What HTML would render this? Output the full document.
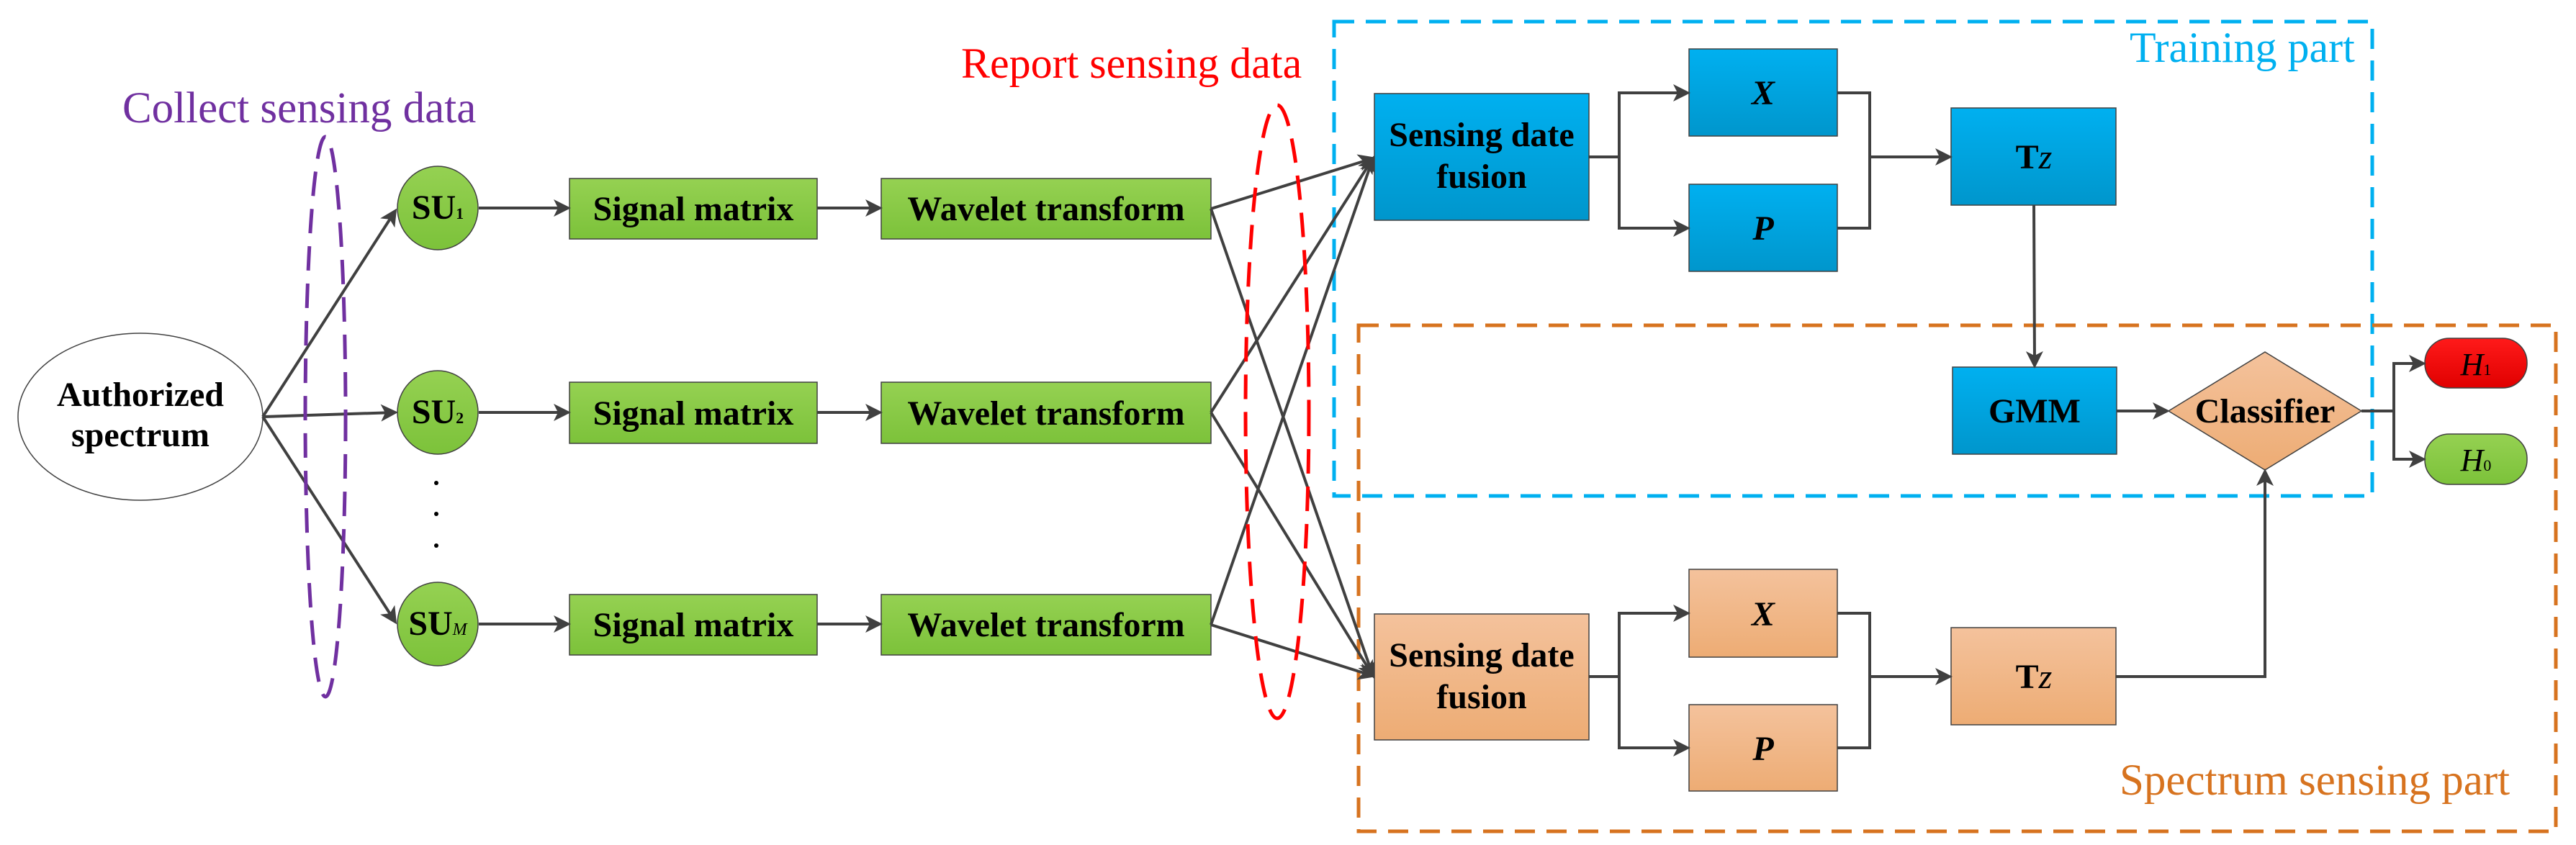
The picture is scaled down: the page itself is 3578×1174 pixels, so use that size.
<!DOCTYPE html>
<html><head><meta charset="utf-8"><style>
html,body{margin:0;padding:0;background:#fff;}
svg{display:block;}
text{font-family:"Liberation Serif",serif;}
.b{font-weight:bold;font-size:48px;fill:#000;text-anchor:middle;}
.l{stroke:#404040;stroke-width:4;fill:none;}
</style></head><body>
<svg width="3578" height="1174" viewBox="0 0 3578 1174" xmlns="http://www.w3.org/2000/svg">
<defs>
<linearGradient id="g" x1="0" y1="0" x2="0" y2="1"><stop offset="0" stop-color="#95d152"/><stop offset="1" stop-color="#7cc23a"/></linearGradient>
<linearGradient id="bl" x1="0" y1="0" x2="0" y2="1"><stop offset="0" stop-color="#00b0f0"/><stop offset="1" stop-color="#0096cc"/></linearGradient>
<linearGradient id="or" x1="0" y1="0" x2="0" y2="1"><stop offset="0" stop-color="#f4c29c"/><stop offset="1" stop-color="#edac74"/></linearGradient>
<linearGradient id="rd" x1="0" y1="0" x2="0" y2="1"><stop offset="0" stop-color="#ff1a1a"/><stop offset="1" stop-color="#e00000"/></linearGradient>
<marker id="a" markerWidth="6" markerHeight="6" refX="5" refY="3" orient="auto" markerUnits="strokeWidth"><path d="M0,0 L6,3 L0,6 L1.5,3 z" fill="#404040"/></marker>
</defs>

<!-- titles -->
<text x="170" y="170" font-size="61" fill="#7030a0">Collect sensing data</text>
<text x="1335" y="108" font-size="60" fill="#ff0000">Report sensing data</text>
<text x="2958" y="86" font-size="60" fill="#00b0f0">Training part</text>
<text x="2944" y="1104" font-size="61" fill="#d7731f">Spectrum sensing part</text>

<!-- dashed regions -->
<rect x="1853" y="30" width="1442" height="659" fill="none" stroke="#00b0f0" stroke-width="5" stroke-dasharray="28,16"/>
<rect x="1887" y="452" width="1663" height="703" fill="none" stroke="#d7731f" stroke-width="5" stroke-dasharray="28,16"/>

<!-- authorized spectrum -->
<ellipse cx="195" cy="579" rx="170" ry="116" fill="#fff" stroke="#404040" stroke-width="1.5"/>
<text class="b" x="195" y="564">Authorized</text>
<text class="b" x="195" y="620">spectrum</text>

<!-- lines from authorized -->
<line class="l" x1="365" y1="579" x2="549" y2="293" marker-end="url(#a)"/>
<line class="l" x1="365" y1="579" x2="549" y2="573" marker-end="url(#a)"/>
<line class="l" x1="365" y1="579" x2="549" y2="864" marker-end="url(#a)"/>

<!-- SU nodes -->
<g stroke="#404040" stroke-width="1.5" fill="url(#g)">
<ellipse cx="608" cy="289" rx="56" ry="58"/>
<ellipse cx="608" cy="573" rx="56" ry="58"/>
<ellipse cx="608" cy="867" rx="56" ry="58"/>
</g>
<text x="608" y="304" class="b" font-size="44">SU<tspan font-size="22">1</tspan></text>
<text x="608" y="588" class="b" font-size="44">SU<tspan font-size="22">2</tspan></text>
<text x="608" y="882" class="b" font-size="44">SU<tspan font-size="24" font-style="italic" font-weight="normal">M</tspan></text>
<circle cx="606" cy="671" r="3" fill="#000"/><circle cx="606" cy="714" r="3" fill="#000"/><circle cx="606" cy="758" r="3" fill="#000"/>

<!-- purple ellipse -->
<ellipse cx="452" cy="579" rx="28" ry="389" fill="none" stroke="#7030a0" stroke-width="5" stroke-dasharray="34,18"/>

<!-- rows -->
<g stroke="#404040" stroke-width="1.5" fill="url(#g)">
<rect x="791" y="248" width="344" height="84"/>
<rect x="791" y="531" width="344" height="85"/>
<rect x="791" y="826" width="344" height="84"/>
<rect x="1224" y="248" width="458" height="84"/>
<rect x="1224" y="531" width="458" height="85"/>
<rect x="1224" y="826" width="458" height="84"/>
</g>
<text class="b" x="963" y="306">Signal matrix</text>
<text class="b" x="963" y="590">Signal matrix</text>
<text class="b" x="963" y="884">Signal matrix</text>
<text class="b" x="1453" y="306">Wavelet transform</text>
<text class="b" x="1453" y="590">Wavelet transform</text>
<text class="b" x="1453" y="884">Wavelet transform</text>
<g class="l">
<line x1="665" y1="289" x2="789" y2="289" marker-end="url(#a)"/>
<line x1="665" y1="573" x2="789" y2="573" marker-end="url(#a)"/>
<line x1="665" y1="867" x2="789" y2="867" marker-end="url(#a)"/>
<line x1="1135" y1="289" x2="1222" y2="289" marker-end="url(#a)"/>
<line x1="1135" y1="573" x2="1222" y2="573" marker-end="url(#a)"/>
<line x1="1135" y1="867" x2="1222" y2="867" marker-end="url(#a)"/>
</g>

<!-- cross lines -->
<g class="l">
<line x1="1682" y1="290" x2="1907" y2="220" marker-end="url(#a)"/>
<line x1="1682" y1="573" x2="1907" y2="220" marker-end="url(#a)"/>
<line x1="1682" y1="868" x2="1907" y2="220" marker-end="url(#a)"/>
<line x1="1682" y1="290" x2="1907" y2="939" marker-end="url(#a)"/>
<line x1="1682" y1="573" x2="1907" y2="939" marker-end="url(#a)"/>
<line x1="1682" y1="868" x2="1907" y2="939" marker-end="url(#a)"/>
</g>

<!-- red ellipse -->
<ellipse cx="1774" cy="572" rx="44" ry="426" fill="none" stroke="#ff0000" stroke-width="5" stroke-dasharray="34,18"/>

<!-- training part boxes -->
<g stroke="#404040" stroke-width="1.5" fill="url(#bl)">
<rect x="1909" y="130" width="298" height="176"/>
<rect x="2346" y="68" width="206" height="121"/>
<rect x="2346" y="256" width="206" height="121"/>
<rect x="2710" y="150" width="229" height="135"/>
<rect x="2712" y="510" width="228" height="121"/>
</g>
<text class="b" x="2058" y="203">Sensing date</text>
<text class="b" x="2058" y="261">fusion</text>
<text class="b" x="2449" y="145" font-style="italic" font-weight="normal">X</text>
<text class="b" x="2449" y="333" font-style="italic" font-weight="normal">P</text>
<text class="b" x="2825" y="234">T<tspan font-style="italic" font-weight="normal">z</tspan></text>
<text class="b" x="2826" y="587">GMM</text>

<!-- spectrum sensing boxes -->
<g stroke="#404040" stroke-width="1.5" fill="url(#or)">
<rect x="1909" y="853" width="298" height="175"/>
<rect x="2346" y="791" width="206" height="122"/>
<rect x="2346" y="979" width="206" height="120"/>
<rect x="2710" y="872" width="229" height="135"/>
<polygon points="3146,489 3280,571 3146,653 3012,571"/>
</g>
<text class="b" x="2058" y="926">Sensing date</text>
<text class="b" x="2058" y="984">fusion</text>
<text class="b" x="2449" y="869" font-style="italic" font-weight="normal">X</text>
<text class="b" x="2449" y="1056" font-style="italic" font-weight="normal">P</text>
<text class="b" x="2825" y="956">T<tspan font-style="italic" font-weight="normal">z</tspan></text>
<text class="b" x="3146" y="587">Classifier</text>

<!-- H outputs -->
<rect x="3368" y="470" width="142" height="69" rx="34" fill="url(#rd)" stroke="#404040" stroke-width="1.5"/>
<rect x="3368" y="603" width="142" height="70" rx="34" fill="url(#g)" stroke="#404040" stroke-width="1.5"/>
<text x="3439" y="521" font-size="44" text-anchor="middle" font-style="italic">H<tspan font-size="22" font-style="normal">1</tspan></text>
<text x="3439" y="654" font-size="44" text-anchor="middle" font-style="italic">H<tspan font-size="22" font-style="normal">0</tspan></text>

<!-- connectors right side -->
<g class="l">
<polyline points="2207,218 2249,218 2249,129 2344,129" marker-end="url(#a)"/>
<polyline points="2249,218 2249,317 2344,317" marker-end="url(#a)"/>
<polyline points="2552,129 2597,129 2597,317 2552,317"/>
<line x1="2597" y1="218" x2="2708" y2="218" marker-end="url(#a)"/>
<line x1="2825" y1="285" x2="2826" y2="508" marker-end="url(#a)"/>
<line x1="2940" y1="571" x2="3010" y2="571" marker-end="url(#a)"/>
<polyline points="3280,571 3325,571 3325,505 3366,505" marker-end="url(#a)"/>
<polyline points="3325,571 3325,638 3366,638" marker-end="url(#a)"/>
<polyline points="2207,940 2249,940 2249,852 2344,852" marker-end="url(#a)"/>
<polyline points="2249,940 2249,1039 2344,1039" marker-end="url(#a)"/>
<polyline points="2552,852 2597,852 2597,1039 2552,1039"/>
<line x1="2597" y1="940" x2="2708" y2="940" marker-end="url(#a)"/>
<polyline points="2939,940 3146,940 3146,655" marker-end="url(#a)"/>
</g>
</svg>
</body></html>
